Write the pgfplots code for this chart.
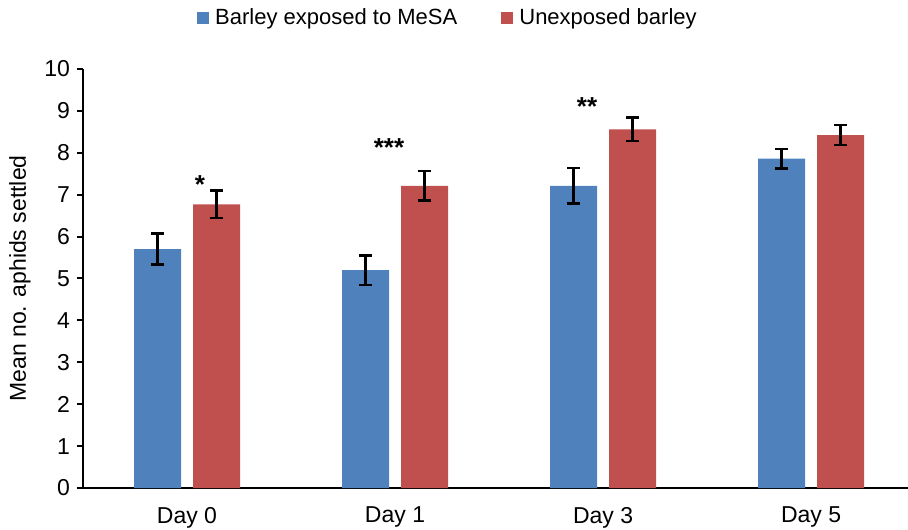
\documentclass[border=0pt]{standalone}
\usepackage{pgfplots}
\pgfplotsset{compat=1.18}
\usepackage{pgfplotstable}
\usepackage{fontspec}
\setmainfont{Liberation Sans}
\definecolor{cblue}{HTML}{4F81BD}
\definecolor{cred}{HTML}{C0504D}
\pgfplotstableread{
x y err
0 5.70 0.37
1 5.20 0.35
2 7.21 0.42
3 7.86 0.23
}\exposed
\pgfplotstableread{
x y err
0 6.77 0.33
1 7.21 0.35
2 8.56 0.28
3 8.42 0.24
}\unexposed
\begin{document}
\begin{tikzpicture}
\begin{axis}[
  scale only axis,
  width=412.5pt, height=209.5pt,
  ymin=0, ymax=10, xmin=-0.5, xmax=3.466,
  ytick={0,1,...,10},
  xtick={0,1,2,3},
  xticklabels={Day 0, Day 1, Day 3, Day 5},
  extra x ticks={-0.5,0.5,1.5,2.5},
  extra x tick labels={},
  extra x tick style={major tick length=3pt, tick style={line width=1pt, black}},
  axis lines=left,
  axis line style={-, line width=1pt, black},
  x axis line style={-},
  y axis line style={-},
  tick align=outside,
  major tick length=3pt,
  x tick style={draw=none},
  y tick style={line width=1pt, black},
  font=\fontsize{11.5}{13}\selectfont,
  tick label style={font=\fontsize{11.5}{13}\selectfont},
  /pgf/number format/assume math mode=true,
  ylabel={Mean no. aphids settled},
  ylabel style={at={(axis description cs:-0.0764,0.5)}, anchor=center},
  xticklabel style={yshift=-3pt},
  ybar=6pt, bar width=23.5pt,
  legend columns=2,
  legend style={draw=none, at={(rel axis cs:0.4436,1.1217)}, anchor=center,
    font=\fontsize{11}{13}\selectfont,
    /tikz/every odd column/.append style={column sep=1pt},
    /tikz/every even column/.append style={column sep=20pt}},
  legend image code/.code={\fill[#1] (0pt,-3pt) rectangle (6pt,3pt);},
  clip=false,
]
\addplot[fill=cblue, draw=none,
  error bars/.cd, y dir=both, y explicit,
  error bar style={line width=1.2pt, black},
  error mark options={black, line width=1.2pt, mark size=3.25pt, rotate=90}]
  table[x=x, y=y, y error=err] {\exposed};
\addlegendentry{Barley exposed to MeSA}
\addplot[fill=cred, draw=none,
  error bars/.cd, y dir=both, y explicit,
  error bar style={line width=1.2pt, black},
  error mark options={black, line width=1.2pt, mark size=3.25pt, rotate=90}]
  table[x=x, y=y, y error=err] {\unexposed};
\addlegendentry{Unexposed barley}
\node[font=\fontsize{13}{15}\selectfont\bfseries] at (axis cs:0.0625,7.25) {*};
\node[font=\fontsize{13}{15}\selectfont\bfseries] at (axis cs:0.971,8.12) {***};
\node[font=\fontsize{13}{15}\selectfont\bfseries] at (axis cs:1.923,9.10) {**};
\end{axis}
\pgfresetboundingbox
\path[use as bounding box] (-41.5pt,-20.5pt) rectangle (412.5pt,244pt);
\end{tikzpicture}
\end{document}
